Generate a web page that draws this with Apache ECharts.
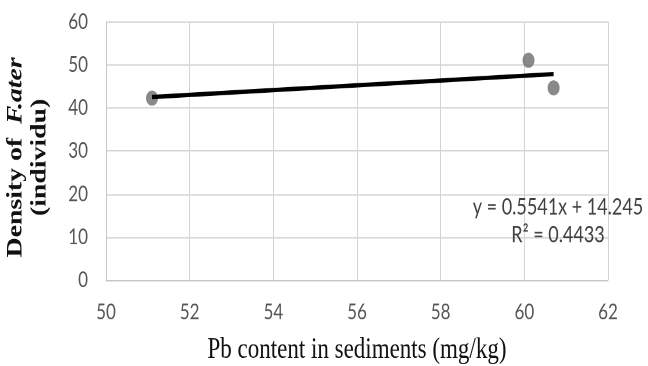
<!DOCTYPE html>
<html>
<head>
<meta charset="utf-8">
<script src="https://cdn.jsdelivr.net/npm/echarts@6/dist/echarts.min.js"></script>
<style>
  html, body { margin: 0; padding: 0; background: #ffffff; overflow: hidden; width: 648px; height: 366px; }
  #wrap { width: 648px; height: 366px; position: relative; overflow: hidden; }
  /* The chart is laid out in a shorter box and stretched vertically to fill 648x366 */
  #chart { position: absolute; left: 0; top: 0; width: 648px; height: 290px; transform: scale(1, 1.262); transform-origin: 0 0; }
</style>
</head>
<body>
<div id="wrap"><div id="chart"></div></div>
<script>
// Pb content in sediments (mg/kg) vs. density of F. ater (individuals)
const pbContent = [51.1, 60.1, 60.7];
const density = [42.3, 51.1, 44.7];

// Linear trendline reported for the data
const trendSlope = 0.5541;
const trendIntercept = 14.245;
const trendR2 = 0.4433;

const xTicks = { min: 50, max: 62, interval: 2 };
const yTicks = { min: 0, max: 60, interval: 10 };

const points = pbContent.map((x, i) => [x, density[i]]);
const xLo = Math.min(...pbContent);
const xHi = Math.max(...pbContent);
const trendPoints = [xLo, xHi].map(x => [x, trendSlope * x + trendIntercept]);

const numFont = 'Lato, "Open Sans", sans-serif';
const serifFont = '"Liberation Serif", "DejaVu Serif", serif';

const chart = echarts.init(document.getElementById('chart'), null, {
  renderer: 'canvas', width: 648, height: 290, devicePixelRatio: 2
});

chart.setOption({
  backgroundColor: '#ffffff',
  animation: false,
  grid: { left: 106, right: 40, top: 17.4, bottom: 68, containLabel: false, outerBoundsMode: 'none' },
  xAxis: {
    type: 'value',
    min: xTicks.min, max: xTicks.max, interval: xTicks.interval,
    axisLine: { show: true, lineStyle: { color: '#c8c8c8', width: 1 } },
    axisTick: { show: false },
    splitLine: { show: true, lineStyle: { color: '#d4d4d4', width: 1 } },
    axisLabel: { color: '#555555', fontFamily: numFont, fontSize: 17, margin: 17 },
    name: 'Pb content in sediments (mg/kg)',
    nameLocation: 'middle',
    nameGap: 44,
    nameTextStyle: { color: '#111111', fontFamily: serifFont, fontSize: 23 }
  },
  yAxis: {
    type: 'value',
    min: yTicks.min, max: yTicks.max, interval: yTicks.interval,
    axisLine: { show: true, lineStyle: { color: '#c8c8c8', width: 1 } },
    axisTick: { show: false },
    splitLine: { show: true, lineStyle: { color: '#d4d4d4', width: 1 } },
    axisLabel: { color: '#555555', fontFamily: numFont, fontSize: 17, margin: 18 },
    name: '{a|Density of  }{b|F.ater}\n{a|(individu)}',
    nameLocation: 'middle',
    nameGap: 54,
    nameRotate: 90,
    nameTextStyle: {
      align: 'center',
      lineHeight: 24,
      padding: [0, 10, 0, 0],
      rich: {
        a: { fontFamily: serifFont, fontSize: 22, fontWeight: 'bold', color: '#111111', lineHeight: 24 },
        b: { fontFamily: serifFont, fontSize: 22, fontWeight: 'bold', fontStyle: 'italic', color: '#111111', lineHeight: 24 }
      }
    }
  },
  graphic: [
    {
      type: 'text',
      x: 558, y: 164,
      style: {
        text: 'y = ' + trendSlope + 'x + ' + trendIntercept.toFixed(3),
        fill: '#404040',
        font: '18px ' + numFont,
        align: 'center', verticalAlign: 'middle',
        textAlign: 'center', textVerticalAlign: 'middle'
      },
      z: 10
    },
    {
      type: 'text',
      x: 558, y: 186,
      style: {
        text: 'R² = ' + trendR2.toFixed(4),
        fill: '#404040',
        font: '18px ' + numFont,
        align: 'center', verticalAlign: 'middle',
        textAlign: 'center', textVerticalAlign: 'middle'
      },
      z: 10
    }
  ],
  series: [
    {
      type: 'line',
      data: trendPoints,
      showSymbol: false,
      symbol: 'none',
      lineStyle: { color: '#000000', width: 3.4 },
      z: 3
    },
    {
      type: 'scatter',
      data: points,
      symbol: 'circle',
      symbolSize: 12,
      itemStyle: { color: '#6b6b6b' },
      z: 2
    }
  ]
});
</script>
</body>
</html>
